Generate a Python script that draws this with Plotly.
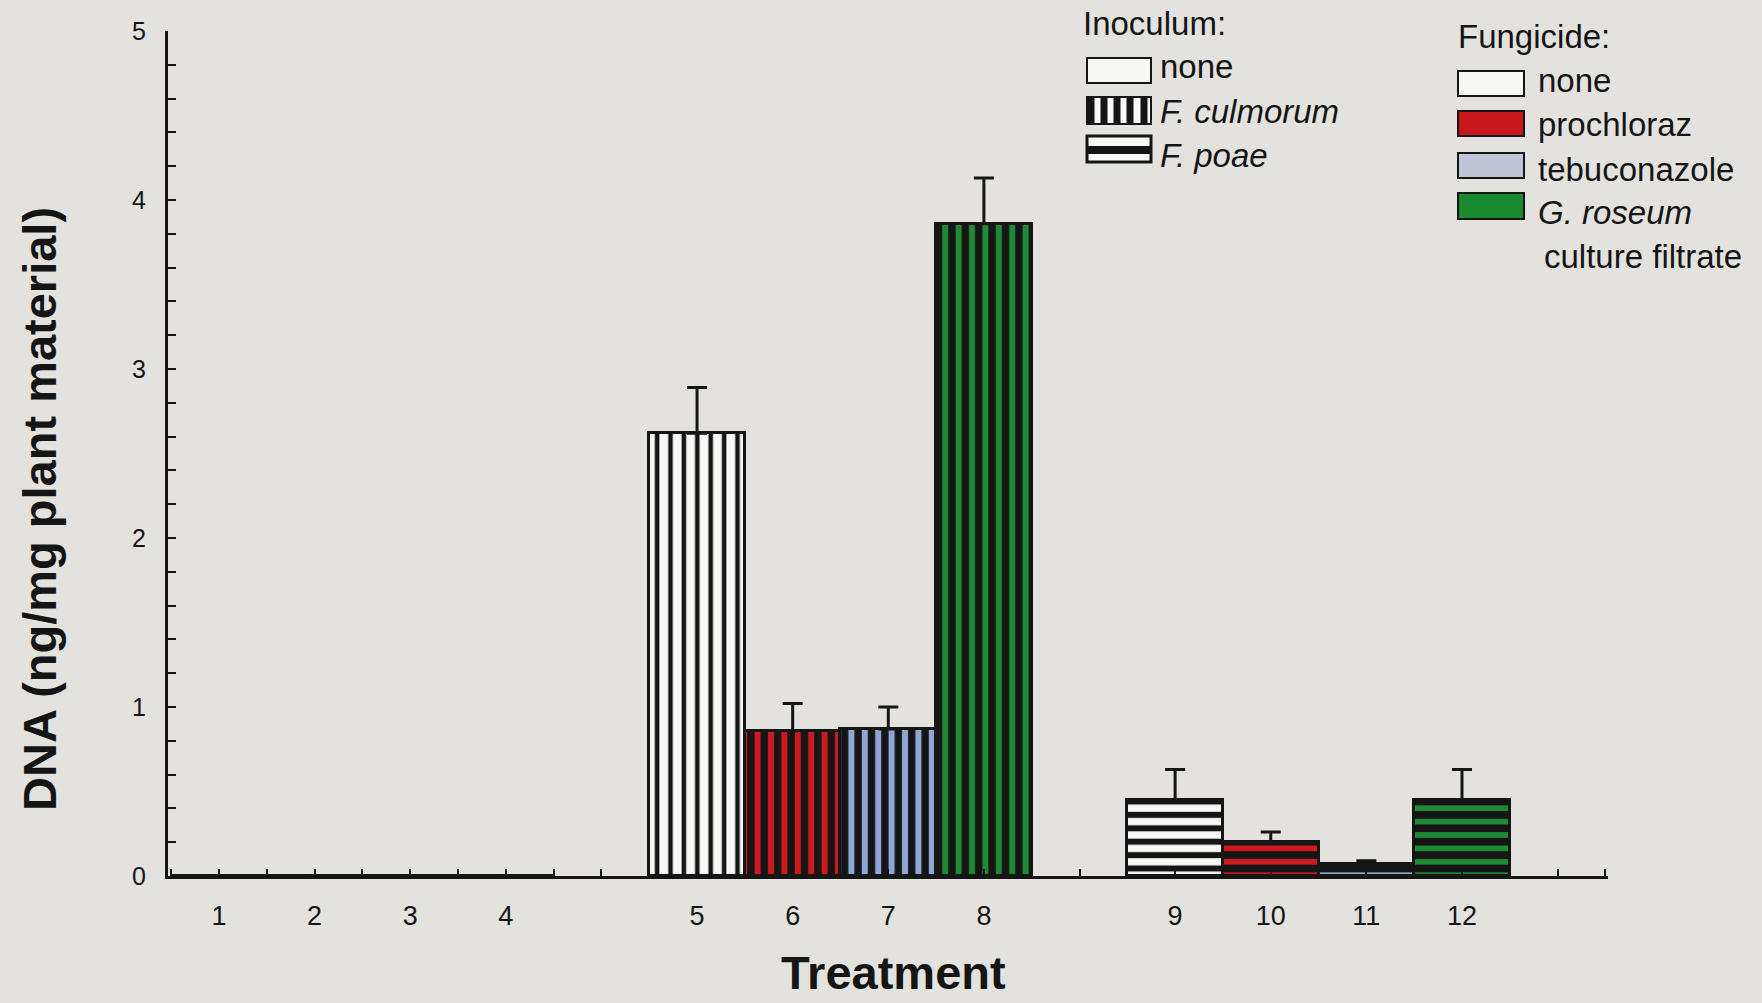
import plotly.graph_objects as go

# ---------------- data ----------------
treatments = ["1", "2", "3", "4", "5", "6", "7", "8", "9", "10", "11", "12"]
slots = [1, 2, 3, 4, 6, 7, 8, 9, 11, 12, 13, 14]          # x slot of each treatment
dna = [0, 0, 0, 0, 2.62, 0.86, 0.87, 3.86, 0.45, 0.20, 0.07, 0.45]
dna_err = [0, 0, 0, 0, 0.27, 0.16, 0.13, 0.27, 0.18, 0.06, 0.02, 0.18]
inoculum = ["none"] * 4 + ["F. culmorum"] * 4 + ["F. poae"] * 4
fungicide = ["none", "prochloraz", "tebuconazole", "G. roseum"] * 3

y_ticks = [0, 1, 2, 3, 4, 5]

# ---------------- styles ----------------
BG = "#e3e2df"
INK = "#151515"
FONT = "Liberation Sans, Arial, sans-serif"
fung_color = {"none": "#f7f7f5", "prochloraz": "#cc1a1f",
              "tebuconazole": "#8fa7d6", "G. roseum": "#1f8a34"}
inoc_shape = {"none": "", "F. culmorum": "|", "F. poae": "-"}
solid_plain = {"none": 0.0, "F. culmorum": 0.34, "F. poae": 0.45}
solid_col = {"none": 0.0, "F. culmorum": 0.55, "F. poae": 0.58}

n = len(dna)
bg_cols = [fung_color[f] for f in fungicide]
fg_cols = [INK] * n
shapes_p = [inoc_shape[i] for i in inoculum]
solid = [solid_plain[i] if fungicide[k] == "none" else solid_col[i]
         for k, i in enumerate(inoculum)]
sizes = [13.4] * n

fig = go.Figure()
fig.add_trace(go.Bar(
    x=slots, y=dna,
    marker=dict(
        color="#f7f7f5",
        line=dict(color=INK, width=3),
        pattern=dict(shape=shapes_p, fgcolor=fg_cols, bgcolor=bg_cols,
                     fillmode="replace", fgopacity=1, size=sizes,
                     solidity=solid),
    ),
    error_y=dict(type="data", array=dna_err, arrayminus=[0] * n,
                 symmetric=False, color=INK, thickness=3, width=10),
    showlegend=False,
))

# ---------------- geometry helpers (pixel -> paper) ----------------
L, R, T, B = 168, 1608, 31, 876
W, H = R - L, B - T


def px(x):
    return (x - L) / W


def py(y):
    return (B - y) / H


shapes = []
annotations = []


def txt(x, y, s, size=33, italic=False, anchor="left", bold=False, angle=0):
    t = f"<i>{s}</i>" if italic else s
    if bold:
        t = f"<b>{t}</b>"
    annotations.append(dict(x=px(x), y=py(y), xref="paper", yref="paper",
                            text=t, showarrow=False, xanchor=anchor,
                            yanchor="middle", textangle=angle,
                            font=dict(size=size, color=INK, family=FONT)))


def rect(x0, y0, x1, y1, fill, lw=2):
    shapes.append(dict(type="rect", xref="paper", yref="paper",
                       x0=px(x0), x1=px(x1), y0=py(y1), y1=py(y0),
                       fillcolor=fill, line=dict(color=INK, width=lw)))


def line(x0, y0, x1, y1, w):
    shapes.append(dict(type="line", xref="paper", yref="paper",
                       x0=px(x0), x1=px(x1), y0=py(y0), y1=py(y1),
                       line=dict(color=INK, width=w)))


# ---------------- Inoculum legend ----------------
txt(1081, 23, "Inoculum:")
ix0, ix1 = 1087, 1151
rect(ix0, 58, ix1, 83, "#f7f7f5")
txt(1158, 67, "none")
rect(ix0, 97, ix1, 124, "#f7f7f5")
for cx in [1091, 1104, 1117, 1130, 1144]:
    line(cx, 97, cx, 124, 7)
txt(1158, 111, "F. culmorum", italic=True)
rect(ix0, 136, ix1, 162, "#f7f7f5", lw=3)
line(ix0, 150, ix1, 150, 8)
txt(1158, 155, "F. poae", italic=True)

# ---------------- Fungicide legend ----------------
txt(1456, 37, "Fungicide:")
fx0, fx1 = 1458, 1524
fung_rows = [("none", 71, 96, False, 81), ("prochloraz", 111, 136, False, 125),
             ("tebuconazole", 153, 178, False, 169),
             ("G. roseum", 193, 219, True, 212)]
swatch_fill = {"none": "#f7f7f5", "prochloraz": "#c8161d",
               "tebuconazole": "#bfc6d8", "G. roseum": "#1a8a30"}
for name, y0, y1, it, ty in fung_rows:
    rect(fx0, y0, fx1, y1, swatch_fill[name])
    txt(1536, ty, name, italic=it)
txt(1542, 256, "culture filtrate")

# ---------------- axis titles ----------------
txt(39, 509, "DNA (ng/mg plant material)", size=47, bold=True,
    anchor="center", angle=-90)
txt(893, 972, "Treatment", size=47, bold=True, anchor="center")

fig.update_layout(
    width=1762, height=1003,
    margin=dict(l=L, r=1762 - R, t=T, b=1003 - B, pad=0),
    paper_bgcolor=BG, plot_bgcolor=BG,
    bargap=0,
    font=dict(family=FONT, color=INK),
    shapes=shapes, annotations=annotations,
    xaxis=dict(
        range=[0.467, 15.527], showgrid=False, zeroline=False,
        showline=True, linecolor=INK, linewidth=3,
        tickmode="array", tickvals=slots, ticktext=treatments,
        ticks="inside", ticklen=7, tickwidth=2, tickcolor=INK,
        tickfont=dict(size=27, color=INK, family=FONT),
        ticklabelstandoff=14,
        minor=dict(ticks="inside", ticklen=7, tickwidth=2, tickcolor=INK,
                   tick0=0.5, dtick=0.5, showgrid=False),
    ),
    yaxis=dict(
        range=[0, 5], showgrid=False, zeroline=False,
        showline=True, linecolor=INK, linewidth=3,
        tickmode="array", tickvals=y_ticks,
        ticks="inside", ticklen=8, tickwidth=2, tickcolor=INK,
        tickfont=dict(size=25, color=INK, family=FONT),
        ticklabelstandoff=14,
        minor=dict(ticks="inside", ticklen=8, tickwidth=2, tickcolor=INK,
                   tick0=0, dtick=0.2, showgrid=False),
    ),
)

fig.write_html("out.html")
